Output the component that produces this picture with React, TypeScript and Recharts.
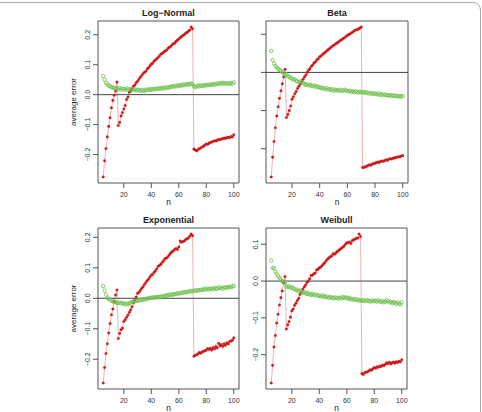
import React from "react";
import { ComposedChart, Line, XAxis, YAxis, ReferenceLine, ReferenceArea } from "recharts";

// sample sizes n = 5 ... 100
const N = Array.from({ length: 96 }, (_, i) => i + 5);

const logNormalRed = [
  -0.275, -0.221, -0.180, -0.141, -0.106, -0.077, -0.044, -0.019, -0.002, 0.012, 0.042,
  -0.103, -0.092, -0.071, -0.060, -0.048, -0.036, -0.016, -0.008, 0.008, 0.012, 0.020, 0.028,
  0.032, 0.040, 0.045, 0.052, 0.058, 0.064, 0.070, 0.075, 0.078, 0.086, 0.090, 0.096, 0.102,
  0.105, 0.112, 0.116, 0.120, 0.124, 0.130, 0.136, 0.138, 0.142, 0.146,
  0.148, 0.154, 0.158, 0.160, 0.166, 0.170, 0.172, 0.178, 0.182, 0.186,
  0.190, 0.194, 0.198, 0.200, 0.205, 0.208, 0.212, 0.216, 0.226, 0.220,
  -0.182, -0.185, -0.188, -0.184, -0.180, -0.178, -0.175, -0.172, -0.168, -0.165,
  -0.166, -0.162, -0.160, -0.158, -0.156, -0.154, -0.155, -0.152, -0.150, -0.150,
  -0.148, -0.147, -0.145, -0.146, -0.143, -0.142, -0.144, -0.140, -0.141, -0.134,
];
const logNormalGreen = [
  0.062, 0.050, 0.040, 0.034, 0.030, 0.028, 0.025, 0.024, 0.022, 0.020, 0.022,
  0.018, 0.022, 0.017, 0.020, 0.019, 0.016, 0.021, 0.017, 0.019, 0.015, 0.018, 0.016,
  0.018, 0.014, 0.017, 0.015, 0.013, 0.016, 0.014, 0.012, 0.017, 0.015, 0.018, 0.016, 0.019,
  0.017, 0.020, 0.018, 0.021, 0.019, 0.022, 0.020, 0.023, 0.021, 0.024,
  0.022, 0.025, 0.023, 0.026, 0.028, 0.026, 0.030, 0.027, 0.031, 0.029,
  0.032, 0.030, 0.034, 0.031, 0.035, 0.033, 0.036, 0.034, 0.037, 0.035,
  0.028, 0.025, 0.027, 0.030, 0.028, 0.031, 0.029, 0.032, 0.030, 0.033,
  0.031, 0.034, 0.032, 0.035, 0.033, 0.036, 0.034, 0.038, 0.035, 0.039,
  0.037, 0.040, 0.036, 0.039, 0.037, 0.038, 0.035, 0.040, 0.036, 0.041,
];

const betaRed = [
  -0.274, -0.222, -0.181, -0.145, -0.114, -0.090, -0.068, -0.048, -0.030, -0.012, 0.008,
  -0.118, -0.110, -0.100, -0.088, -0.070, -0.064, -0.056, -0.050, -0.042, -0.036, -0.030, -0.024,
  -0.018, -0.012, -0.007, 0.000, 0.006, 0.010, 0.016, 0.020, 0.025, 0.028, 0.033, 0.036, 0.041,
  0.043, 0.047, 0.050, 0.053, 0.056, 0.059, 0.062, 0.065, 0.068, 0.071,
  0.073, 0.076, 0.078, 0.081, 0.084, 0.086, 0.089, 0.091, 0.094, 0.097,
  0.099, 0.101, 0.104, 0.106, 0.109, 0.111, 0.112, 0.114, 0.116, 0.119,
  -0.249, -0.249, -0.247, -0.246, -0.244, -0.242, -0.243, -0.240, -0.239, -0.238,
  -0.236, -0.235, -0.236, -0.233, -0.232, -0.233, -0.231, -0.229, -0.230, -0.227,
  -0.226, -0.227, -0.225, -0.224, -0.223, -0.222, -0.221, -0.221, -0.219, -0.218,
];
const betaGreen = [
  0.056, 0.032, 0.023, 0.017, 0.013, 0.009, 0.006, 0.004, 0.001, -0.003, -0.007,
  -0.005, -0.010, -0.012, -0.014, -0.016, -0.020, -0.018, -0.022, -0.024, -0.025, -0.023, -0.026,
  -0.028, -0.030, -0.033, -0.031, -0.034, -0.032, -0.035, -0.036, -0.034, -0.038, -0.036, -0.039, -0.039,
  -0.041, -0.040, -0.042, -0.044, -0.041, -0.045, -0.043, -0.046, -0.044, -0.048,
  -0.045, -0.047, -0.046, -0.048, -0.045, -0.049, -0.047, -0.045, -0.048, -0.048,
  -0.050, -0.048, -0.051, -0.049, -0.052, -0.050, -0.051, -0.053, -0.050, -0.052,
  -0.053, -0.051, -0.054, -0.052, -0.055, -0.053, -0.056, -0.054, -0.057, -0.055,
  -0.056, -0.058, -0.055, -0.059, -0.057, -0.060, -0.058, -0.059, -0.060, -0.061,
  -0.059, -0.062, -0.060, -0.061, -0.063, -0.061, -0.062, -0.064, -0.062, -0.062,
];

const expRed = [
  -0.278, -0.227, -0.181, -0.149, -0.114, -0.083, -0.054, -0.035, -0.010, 0.011, 0.027,
  -0.132, -0.115, -0.103, -0.098, -0.076, -0.070, -0.062, -0.055, -0.046, -0.038, -0.028, -0.015,
  -0.006, 0.004, 0.016, 0.020, 0.026, 0.033, 0.038, 0.045, 0.052, 0.058, 0.063, 0.070, 0.076,
  0.078, 0.085, 0.090, 0.097, 0.105, 0.108, 0.112, 0.118, 0.124, 0.130,
  0.132, 0.136, 0.142, 0.148, 0.152, 0.156, 0.160, 0.163, 0.160, 0.168,
  0.188, 0.184, 0.186, 0.188, 0.193, 0.195, 0.198, 0.204, 0.211, 0.205,
  -0.190, -0.187, -0.185, -0.182, -0.178, -0.180, -0.176, -0.174, -0.172, -0.170,
  -0.165, -0.168, -0.164, -0.170, -0.162, -0.166, -0.158, -0.163, -0.148, -0.156,
  -0.152, -0.158, -0.149, -0.154, -0.146, -0.150, -0.142, -0.140, -0.138, -0.130,
];
const expGreen = [
  0.040, 0.025, 0.012, 0.002, -0.002, -0.005, -0.008, -0.010, -0.012, -0.013, -0.015,
  -0.016, -0.014, -0.017, -0.015, -0.018, -0.020, -0.017, -0.019, -0.016, -0.014, -0.012, -0.011,
  -0.010, -0.008, -0.009, -0.006, -0.007, -0.004, -0.005, -0.002, -0.003, 0.000, -0.001, 0.002, 0.001,
  0.003, 0.002, 0.004, 0.003, 0.005, 0.004, 0.006, 0.005, 0.007, 0.008,
  0.009, 0.010, 0.012, 0.011, 0.013, 0.012, 0.014, 0.015, 0.016, 0.015,
  0.018, 0.017, 0.019, 0.020, 0.021, 0.019, 0.022, 0.023, 0.024, 0.022,
  0.025, 0.026, 0.024, 0.027, 0.026, 0.028, 0.027, 0.030, 0.029, 0.032,
  0.028, 0.031, 0.030, 0.033, 0.029, 0.034, 0.031, 0.032, 0.036, 0.033,
  0.035, 0.031, 0.036, 0.034, 0.037, 0.035, 0.038, 0.036, 0.039, 0.041,
];

const weibullRed = [
  -0.277, -0.229, -0.179, -0.148, -0.114, -0.090, -0.065, -0.045, -0.027, -0.005, 0.012,
  -0.130, -0.119, -0.110, -0.098, -0.081, -0.076, -0.066, -0.060, -0.053, -0.047, -0.036, -0.030,
  -0.022, -0.016, -0.011, -0.004, 0.000, 0.006, 0.015, 0.016, 0.020, 0.022, 0.030, 0.032, 0.036,
  0.038, 0.042, 0.046, 0.050, 0.055, 0.060, 0.063, 0.066, 0.068, 0.074,
  0.073, 0.076, 0.080, 0.083, 0.086, 0.089, 0.092, 0.095, 0.100, 0.104,
  0.104, 0.106, 0.102, 0.110, 0.112, 0.114, 0.116, 0.117, 0.128, 0.121,
  -0.251, -0.254, -0.249, -0.247, -0.247, -0.244, -0.241, -0.242, -0.238, -0.235,
  -0.237, -0.233, -0.234, -0.231, -0.232, -0.228, -0.230, -0.226, -0.222, -0.224,
  -0.221, -0.225, -0.222, -0.220, -0.223, -0.219, -0.221, -0.218, -0.220, -0.214,
];
const weibullGreen = [
  0.056, 0.036, 0.035, 0.025, 0.020, 0.014, 0.009, 0.004, 0.000, -0.002, -0.005,
  -0.015, -0.016, -0.014, -0.018, -0.017, -0.020, -0.022, -0.025, -0.023, -0.028, -0.026, -0.030,
  -0.032, -0.029, -0.033, -0.035, -0.032, -0.036, -0.038, -0.035, -0.037, -0.039, -0.036, -0.040, -0.040,
  -0.042, -0.039, -0.043, -0.041, -0.044, -0.042, -0.046, -0.043, -0.045, -0.045,
  -0.047, -0.044, -0.046, -0.048, -0.045, -0.047, -0.043, -0.046, -0.044, -0.045,
  -0.048, -0.046, -0.050, -0.048, -0.051, -0.049, -0.052, -0.050, -0.053, -0.052,
  -0.054, -0.051, -0.055, -0.053, -0.052, -0.054, -0.056, -0.053, -0.055, -0.053,
  -0.054, -0.056, -0.052, -0.055, -0.057, -0.054, -0.058, -0.056, -0.052, -0.055,
  -0.058, -0.056, -0.060, -0.057, -0.059, -0.062, -0.058, -0.061, -0.063, -0.058,
];

const xTicks = [20, 40, 60, 80, 100];
const yTicksWide = [-0.2, -0.1, 0, 0.1, 0.2];
const yTicksNarrow = [-0.2, -0.1, 0, 0.1];

const FONT = "'Liberation Sans', Arial, Helvetica, sans-serif";
const AXIS = "#555";
const YW = 30; // room left of the plot box for y ticks
const XH = 30; // room under the plot box for x ticks

// R-style padding: data range widened by 4% on each side
function padded(vals: number[]): [number, number] {
  const lo = Math.min(...vals);
  const hi = Math.max(...vals);
  const d = (hi - lo) * 0.04;
  return [lo - d, hi + d];
}

const xDomain = padded(N);

const fmt = (v: number) => (v < 0 ? "\u2212" : "") + Math.abs(v).toFixed(1);

function YTick(props: any) {
  const { x, y, payload, show } = props;
  if (!show) return null;
  const tx = x - 2.5;
  return (
    <text x={tx} y={y} transform={`rotate(-90 ${tx} ${y})`} textAnchor="middle"
      fontSize={7} fontFamily={FONT} fill="#333">
      {fmt(payload.value)}
    </text>
  );
}

function XTick(props: any) {
  const { x, y, payload } = props;
  return (
    <text x={x} y={y + 8.5} textAnchor="middle" fontSize={7} fontFamily={FONT} fill="#333">
      {payload.value}
    </text>
  );
}

interface PanelProps {
  left: number;
  top: number;
  w: number;
  h: number;
  red: number[];
  green: number[];
  yTicks: number[];
  yLabels: boolean;
}

function Panel({ left, top, w, h, red, green, yTicks, yLabels }: PanelProps) {
  const data = N.map((n, i) => ({ n, red: red[i], green: green[i] }));
  const yDomain = padded([...red, ...green]);
  return (
    <div style={{ position: "absolute", left: left - YW, top: top - 4 }}>
      <ComposedChart width={YW + w + 4} height={h + 4 + XH} data={data}
        margin={{ top: 4, right: 4, left: 0, bottom: 0 }}>
        <XAxis dataKey="n" type="number" domain={xDomain} ticks={xTicks} height={XH}
          axisLine={false} tickLine={{ stroke: AXIS }} tickSize={5} tickMargin={0}
          tick={<XTick />} interval={0} allowDataOverflow />
        <YAxis type="number" domain={yDomain} ticks={yTicks} width={YW}
          axisLine={false} tickLine={{ stroke: AXIS }} tickSize={5} tickMargin={0}
          tick={<YTick show={yLabels} />} interval={0} allowDataOverflow />
        <ReferenceArea x1={xDomain[0]} x2={xDomain[1]} y1={yDomain[0]} y2={yDomain[1]}
          fill="none" stroke={AXIS} strokeWidth={1} fillOpacity={0} />
        <Line type="linear" dataKey="red" stroke="#f09a9a" strokeWidth={0.8}
          dot={{ r: 1.3, fill: "#d01818", stroke: "#d01818", strokeWidth: 0.3 }}
          activeDot={false} isAnimationActive={false} />
        <Line type="linear" dataKey="green" stroke="none" strokeWidth={0}
          dot={{ r: 1.7, fill: "none", stroke: "#6cbf4a", strokeWidth: 0.8 }}
          activeDot={false} isAnimationActive={false} />
        <ReferenceLine y={0} stroke="#444" strokeWidth={1} />
      </ComposedChart>
    </div>
  );
}

export default function App() {
  const panels = [
    { title: "Log\u2212Normal", left: 98, top: 21, w: 141, h: 162, red: logNormalRed, green: logNormalGreen, yTicks: yTicksWide, yLabels: true },
    { title: "Beta", left: 266, top: 21, w: 142, h: 162, red: betaRed, green: betaGreen, yTicks: yTicksNarrow, yLabels: false },
    { title: "Exponential", left: 98, top: 228, w: 141, h: 161, red: expRed, green: expGreen, yTicks: yTicksWide, yLabels: true },
    { title: "Weibull", left: 266, top: 228, w: 141, h: 161, red: weibullRed, green: weibullGreen, yTicks: yTicksNarrow, yLabels: true },
  ];

  return (
    <div style={{ position: "fixed", left: 0, top: 0, width: 482, height: 412, background: "#fff", overflow: "hidden" }}>
      {/* figure frame */}
      <div style={{
        position: "absolute", left: -10, top: 2, width: 491, height: 430,
        border: "1px solid #aaa", borderTopRightRadius: 8, boxSizing: "border-box",
      }} />
      {panels.map((p) => (
        <Panel key={p.title} left={p.left} top={p.top} w={p.w} h={p.h}
          red={p.red} green={p.green} yTicks={p.yTicks} yLabels={p.yLabels} />
      ))}
      <svg width={482} height={412} style={{ position: "absolute", left: 0, top: 0, pointerEvents: "none" }}>
        {panels.map((p, i) => {
          const cx = p.left + p.w / 2;
          const cy = p.top + p.h / 2;
          return (
            <g key={p.title} fontFamily={FONT} fill="#222">
              <text x={cx} y={p.top - 5} textAnchor="middle" fontSize={9} fontWeight="bold">
                {p.title}
              </text>
              <text x={cx} y={p.top + p.h + 22} textAnchor="middle" fontSize={8.5}>
                n
              </text>
              {i % 2 === 0 && (
                <text x={76} y={cy} transform={`rotate(-90 76 ${cy})`} textAnchor="middle" fontSize={8}>
                  average error
                </text>
              )}
            </g>
          );
        })}
      </svg>
    </div>
  );
}
